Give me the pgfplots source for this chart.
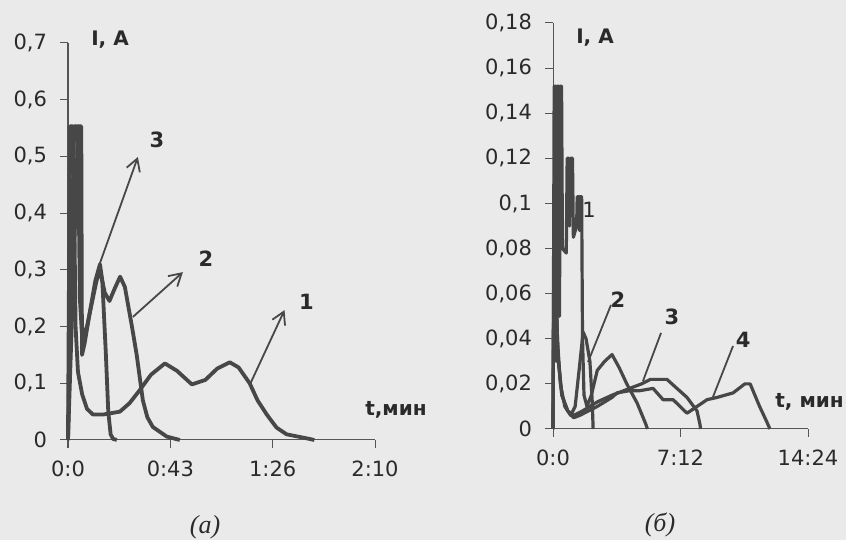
\documentclass[border=0pt]{standalone}
\usepackage{fontspec}
\setmainfont{DejaVu Sans}
\newfontfamily\capfont{Liberation Serif}
\usepackage{pgfplots}
\pgfplotsset{compat=1.18}
\usetikzlibrary{arrows.meta}
\definecolor{bg}{HTML}{EAEAEA}
\definecolor{ink}{HTML}{474747}
\definecolor{txt}{HTML}{2A2A2A}
\pgfplotsset{
  panel/.style={
    scale only axis,
    axis x line*=bottom, axis y line*=left,
    axis line style={draw=txt!80, line width=0.5pt},
    tick align=outside, major tick length=4pt,
    tick style={draw=txt!80, line width=0.5pt},
    ticklabel style={font=\fontsize{10.5}{12}\selectfont, text=txt},
    /pgf/number format/assume math mode=true,
    /pgf/number format/use comma,
    /pgf/number format/fixed,
    /pgf/number format/precision=2,
    clip=false,
  },
  crvA/.style={draw=ink, line width=1.9pt, line join=round, mark=none},
  crvB/.style={draw=ink, line width=1.6pt, line join=round, mark=none},
}
\begin{document}
\begin{tikzpicture}
\useasboundingbox (0,0) rectangle (423pt,270pt);
\fill[bg] (0,0) rectangle (423pt,270pt);
% ---------- (a) ----------
\begin{axis}[panel, at={(34pt,50pt)}, anchor=south west,
  width=153.5pt, height=198.5pt,
  xmin=0, xmax=129.6, ymin=0, ymax=0.7,
  xtick={0,43.2,86.4,129.6}, xticklabels={0:0,0:43,1:26,2:10},
  ytick={0,0.1,0.2,0.3,0.4,0.5,0.6,0.7},
  xticklabel style={yshift=-3pt}, yticklabel style={xshift=-3pt}]
\addplot[crvA] coordinates {(0,0)(0.8,0.553)(2.2,0.553)(3.2,0.2)(4.2,0.12)(6,0.08)(8,0.055)(10.5,0.045)(15,0.045)(21.9,0.05)(26,0.065)(30.3,0.088)(35,0.115)(40.9,0.135)(46,0.122)(52.3,0.098)(58,0.106)(63,0.126)(68.3,0.137)(72,0.128)(76.7,0.1)(80,0.07)(83.9,0.045)(88,0.022)(92.3,0.01)(100.7,0.003)(104,0)};
\addplot[crvA] coordinates {(0,0)(2.6,0.553)(4.2,0.553)(5,0.25)(6,0.18)(8,0.2)(10,0.24)(12,0.28)(13.5,0.3)(15.5,0.26)(17.5,0.245)(19.5,0.265)(22,0.288)(24,0.27)(27,0.2)(29,0.15)(31.6,0.07)(33.5,0.04)(35.8,0.023)(41.7,0.006)(47.2,0)};
\addplot[crvA] coordinates {(0,0)(4.3,0.553)(5.6,0.553)(5.9,0.15)(7,0.17)(9,0.22)(11.5,0.28)(13.5,0.31)(14.5,0.28)(16,0.15)(17,0.05)(18,0.01)(19,0.002)(20.6,0)};
\draw[ink, line width=0.9pt, -{Straight Barb[length=6pt,width=7pt]}] (axis cs:13.5,0.312) -- (axis cs:29.5,0.499);
\draw[ink, line width=0.9pt, -{Straight Barb[length=6pt,width=7pt]}] (axis cs:27.4,0.217) -- (axis cs:48.5,0.296);
\draw[ink, line width=0.9pt, -{Straight Barb[length=6pt,width=7pt]}] (axis cs:76.7,0.097) -- (axis cs:91.4,0.229);
\node[font=\bfseries\fontsize{10.5}{12}\selectfont, text=txt] at (axis cs:37.5,0.529) {3};
\node[font=\bfseries\fontsize{10.5}{12}\selectfont, text=txt] at (axis cs:58.2,0.319) {2};
\node[font=\bfseries\fontsize{10.5}{12}\selectfont, text=txt] at (axis cs:100.7,0.243) {1};
\end{axis}
% ---------- (b) ----------
\begin{axis}[panel, at={(276.5pt,55.5pt)}, anchor=south west,
  width=127.5pt, height=203pt,
  xmin=0, xmax=864, ymin=0, ymax=0.18,
  xtick={0,432,864}, xticklabels={0:0,7:12,14:24},
  ytick={0,0.02,0.04,0.06,0.08,0.1,0.12,0.14,0.16,0.18},
  xticklabel style={yshift=-3pt}, yticklabel style={xshift=-3pt}]
\addplot[crvB] coordinates {(0,0)(4,0.152)(9,0.152)(11,0.03)(14,0.152)(20,0.152)(22,0.05)(25,0.152)(29,0.152)(32,0.08)(45,0.078)(48,0.12)(54,0.12)(56,0.09)(59,0.12)(66,0.12)(69,0.085)(80,0.09)(82,0.103)(88,0.103)(89.5,0.088)(91,0.103)(97,0.103)(100,0.04)(105,0.015)(115,0.01)(130,0.015)(150,0.026)(175,0.03)(200,0.033)(225,0.027)(250,0.02)(285,0.0115)(315,0.002)(320,0)};
\addplot[crvB] coordinates {(0,0)(3,0.07)(8,0.08)(15,0.04)(25,0.02)(40,0.01)(60,0.006)(75,0.01)(90,0.028)(102,0.043)(112,0.04)(125,0.03)(133,0.012)(136,0)};
\addplot[crvB] coordinates {(0,0)(2,0.06)(8,0.07)(15,0.035)(30,0.015)(50,0.008)(70,0.006)(100,0.008)(150,0.012)(200,0.015)(260,0.018)(300,0.02)(330,0.022)(386,0.022)(420,0.018)(454,0.014)(488,0.008)(498,0.002)(500,0)};
\addplot[crvB] coordinates {(0,0)(3,0.065)(10,0.06)(18,0.03)(30,0.015)(50,0.008)(70,0.005)(90,0.006)(120,0.008)(150,0.01)(200,0.014)(217,0.016)(260,0.017)(295,0.017)(339,0.018)(373,0.013)(407,0.013)(454,0.007)(488,0.01)(522,0.013)(556,0.014)(610,0.016)(650,0.02)(668,0.02)(700,0.01)(725,0.003)(735,0)};
\draw[ink, line width=0.9pt] (axis cs:196.5,0.055) -- (axis cs:118.6,0.0297);
\draw[ink, line width=0.9pt] (axis cs:366,0.0426) -- (axis cs:305,0.0213);
\draw[ink, line width=0.9pt] (axis cs:610,0.0368) -- (axis cs:542,0.0142);
\node[font=\fontsize{10.5}{12}\selectfont, text=txt] at (axis cs:122,0.097) {1};
\node[font=\bfseries\fontsize{10.5}{12}\selectfont, text=txt] at (axis cs:220,0.0572) {2};
\node[font=\bfseries\fontsize{10.5}{12}\selectfont, text=txt] at (axis cs:403,0.0496) {3};
\node[font=\bfseries\fontsize{10.5}{12}\selectfont, text=txt] at (axis cs:644,0.0394) {4};
\end{axis}
% ---------- labels ----------
\node[font=\bfseries\fontsize{10}{12}\selectfont, text=txt] at (55pt,250pt) {I, A};
\node[font=\bfseries\fontsize{10}{12}\selectfont, text=txt] at (297.5pt,251pt) {I, A};
\node[font=\bfseries\fontsize{10}{12}\selectfont, text=txt] at (198pt,65pt) {t,мин};
\node[font=\bfseries\fontsize{10}{12}\selectfont, text=txt, anchor=west, inner sep=0pt] at (387.5pt,69pt) {t, мин};
\node[font=\capfont\itshape\fontsize{13}{15}\selectfont, text=txt] at (102.5pt,6.5pt) {(a)};
\node[font=\capfont\itshape\fontsize{13}{15}\selectfont, text=txt] at (330pt,7.5pt) {(б)};
\end{tikzpicture}
\end{document}
